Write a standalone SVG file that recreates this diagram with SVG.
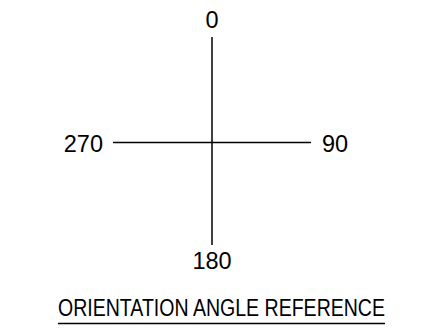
<svg xmlns="http://www.w3.org/2000/svg" width="443" height="328" viewBox="0 0 443 328">
<style>
.lbl{font-family:"Liberation Sans",Arial,sans-serif;font-size:23.5px;fill:#000}
.ax{stroke:#000;stroke-width:1.5;fill:none}
</style>
<rect width="443" height="328" fill="#fff"/>
<g id="connectors">
<line class="ax" x1="212" y1="37" x2="212" y2="245"/>
<line class="ax" x1="113" y1="142.5" x2="311" y2="142.5"/>
</g>
<g id="n0"><text class="lbl" x="212" y="28" text-anchor="middle">0</text></g>
<g id="n270"><text class="lbl" x="103" y="152" text-anchor="end">270</text></g>
<g id="n90"><text class="lbl" x="322" y="152">90</text></g>
<g id="n180"><text class="lbl" x="212" y="269" text-anchor="middle">180</text></g>
<g id="title">
<text class="lbl" x="221.5" y="316" font-size="21.5" text-anchor="middle" textLength="327" lengthAdjust="spacingAndGlyphs">ORIENTATION ANGLE REFERENCE</text>
<line x1="58" y1="323.5" x2="385" y2="323.5" stroke="#000" stroke-width="1.5"/>
</g>
</svg>
